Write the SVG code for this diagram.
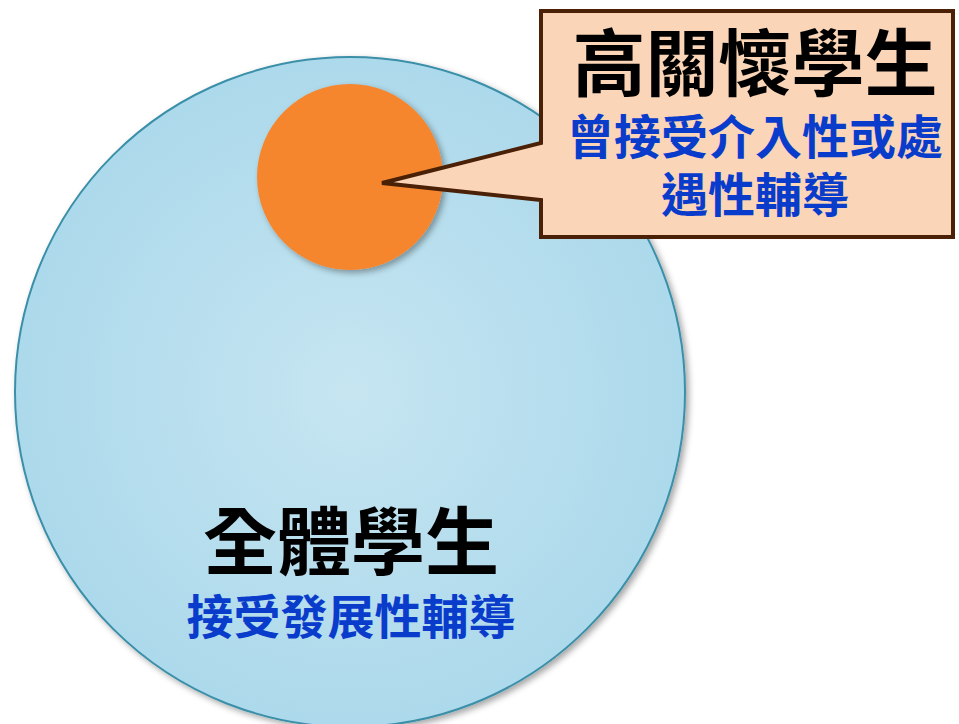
<svg xmlns="http://www.w3.org/2000/svg" width="959" height="724" viewBox="0 0 959 724">
<style>
.cjk{font-family:"Noto Sans CJK TC","Noto Sans CJK SC",sans-serif;font-weight:bold;text-anchor:middle}
.title{fill:#000000}
.sub{fill:#0a3ccc}
</style>
<defs>
<radialGradient id="blueGrad" cx="0.5" cy="0.5" r="0.5">
<stop offset="0" stop-color="#c6e5f1"/>
<stop offset="1" stop-color="#acd9eb"/>
</radialGradient>
<filter id="shadow" x="-10%" y="-10%" width="125%" height="125%">
<feDropShadow dx="3" dy="3" stdDeviation="3" flood-color="#000" flood-opacity="0.35"/>
</filter>
</defs>
<rect width="959" height="724" fill="#ffffff"/>
<g id="all-students">
<circle cx="350" cy="392" r="335" fill="url(#blueGrad)" stroke="#3a8fa8" stroke-width="2" filter="url(#shadow)"/>
<text class="cjk title" x="351" y="569" font-size="74">全體學生</text>
<text class="cjk sub" x="351" y="634" font-size="47">接受發展性輔導</text>
</g>
<g id="high-care">
<circle cx="350" cy="177" r="93" fill="#f6862f" filter="url(#shadow)"/>
</g>
<g id="connectors"></g>
<g id="callout">
<path d="M541,11 L953,11 L953,237 L541,237 L541,200 L382,183 L541,143 Z" fill="#fbd5b7" stroke="#4a2006" stroke-width="4" stroke-linejoin="miter"/>
<text class="cjk title" x="755" y="90" font-size="73">高關懷學生</text>
<text class="cjk sub" x="755" y="154" font-size="47">曾接受介入性或處</text>
<text class="cjk sub" x="755" y="212" font-size="47">遇性輔導</text>
</g>
</svg>
